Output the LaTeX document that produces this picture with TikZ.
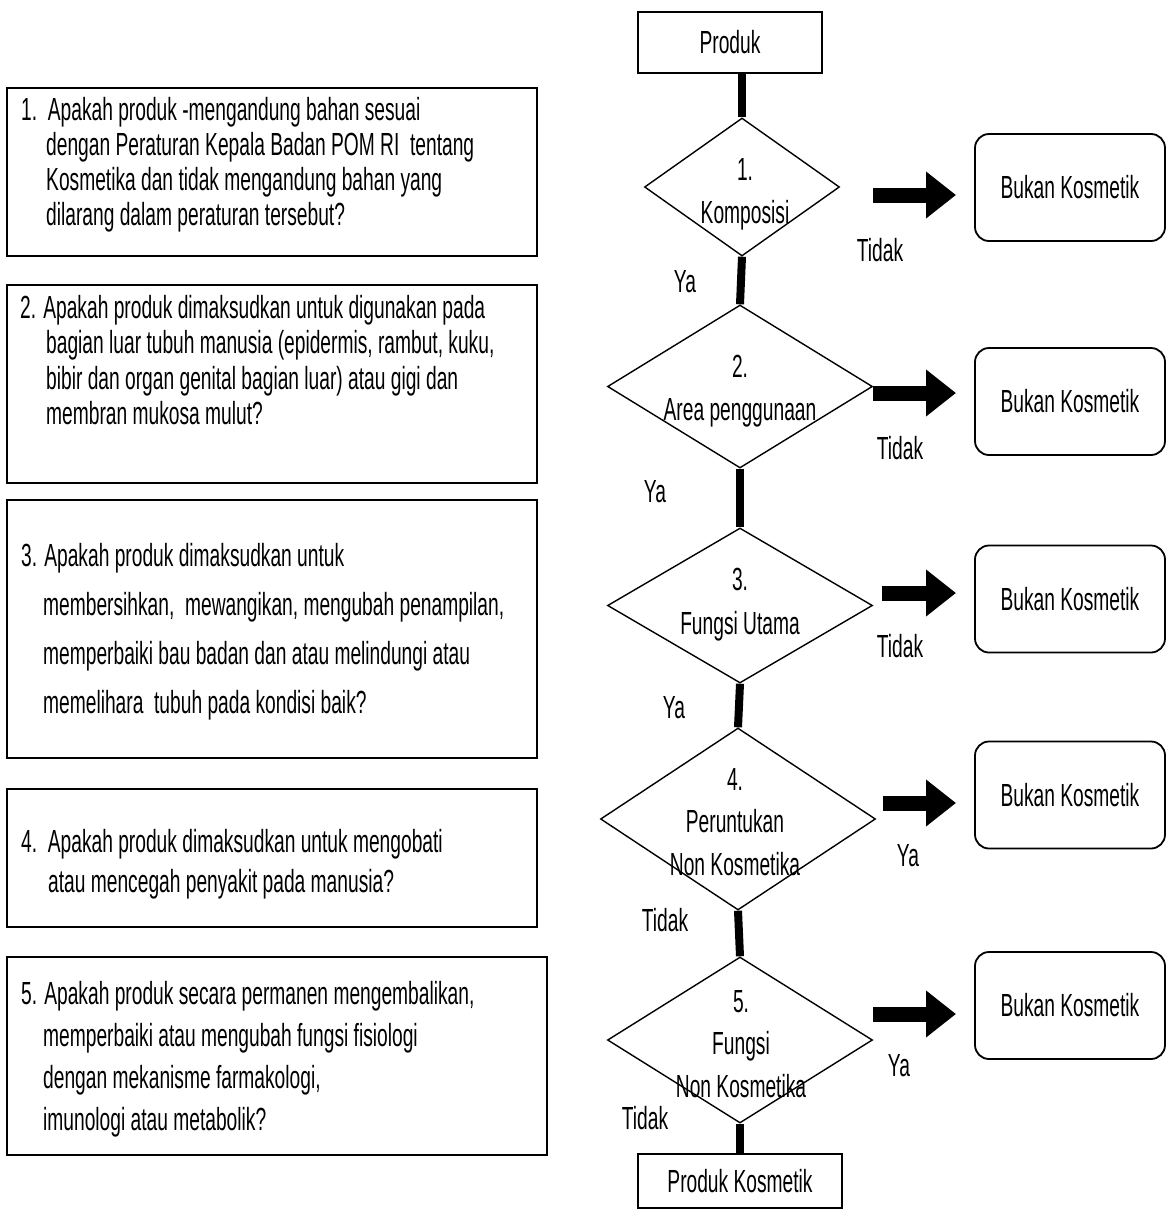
\documentclass[tikz,border=0pt]{standalone}
\usepackage{fontspec}
\setmainfont{Liberation Sans}[FakeStretch=0.6]
\usetikzlibrary{shapes.geometric,arrows.meta}

\begin{document}
\begin{tikzpicture}[x=1pt,y=-1pt,
	every node/.style={font=\fontsize{32}{36}\selectfont, inner sep=0pt},
	sq/.style={draw, line width=1.8pt, rectangle},
	rnd/.style={draw, line width=1.8pt, rounded corners=14pt, minimum width=190pt, minimum height=107pt},
	dia/.style={draw, line width=1.4pt, diamond},
	bar/.style={line width=8pt},
	blk/.style={line width=15pt, -{Triangle[length=30pt,width=45pt]}},
	qtxt/.style={align=left, anchor=base west},
	dtxt/.style={align=center, anchor=base, font=\fontsize{32}{42.5}\selectfont}]
	\useasboundingbox (0,0) rectangle (1166,1210);
	% questions, placed at the baseline of their last line
	\node[sq, minimum width=530pt, minimum height=168pt] (q1) at (272,172) {};
	\node[qtxt, font=\fontsize{32}{35}\selectfont] (q1t) at (21,225) {1.\ \ Apakah produk -mengandung bahan sesuai\\
		\hspace*{25pt}dengan Peraturan Kepala Badan POM RI\ \ tentang\\
		\hspace*{25pt}Kosmetika dan tidak mengandung bahan yang\\
		\hspace*{25pt}dilarang dalam peraturan tersebut?};
	%
	\node[sq, minimum width=530pt, minimum height=198pt] (q2) at (272,384) {};
	\node[qtxt, font=\fontsize{32}{35.5}\selectfont] (q2t) at (20,424.5) {2. Apakah produk dimaksudkan untuk digunakan pada\\
		\hspace*{26pt}bagian luar tubuh manusia (epidermis, rambut, kuku,\\
		\hspace*{26pt}bibir dan organ genital bagian luar) atau gigi dan\\
		\hspace*{26pt}membran mukosa mulut?};
	%
	\node[sq, minimum width=530pt, minimum height=258pt] (q3) at (272,629) {};
	\node[qtxt, font=\fontsize{32}{49}\selectfont] (q3t) at (21,713) {3. Apakah produk dimaksudkan untuk\\
		\hspace*{22pt}membersihkan,\ \ mewangikan, mengubah penampilan,\\
		\hspace*{22pt}memperbaiki bau badan dan atau melindungi atau\\
		\hspace*{22pt}memelihara\ \ tubuh pada kondisi baik?};
	%
	\node[sq, minimum width=530pt, minimum height=138pt] (q4) at (272,858) {};
	\node[qtxt, font=\fontsize{32}{40}\selectfont] (q4t) at (21,892) {4.\ \ Apakah produk dimaksudkan untuk mengobati\\
		\hspace*{27pt}atau mencegah penyakit pada manusia?};
	%
	\node[sq, minimum width=540pt, minimum height=198pt] (q5) at (277,1056) {};
	\node[qtxt, font=\fontsize{32}{41.7}\selectfont] (q5t) at (21,1130) {5. Apakah produk secara permanen mengembalikan,\\
		\hspace*{22pt}memperbaiki atau mengubah fungsi fisiologi\\
		\hspace*{22pt}dengan mekanisme farmakologi,\\
		\hspace*{22pt}imunologi atau metabolik?};
	% flow
	\node[sq, minimum width=184pt, minimum height=61pt] (prod) at (730,42.5) {Produk};
	\node[dia, minimum width=195pt, minimum height=138pt] (d1) at (742,187) {};
	\node[dia, minimum width=265pt, minimum height=163pt] (d2) at (740,386.5) {};
	\node[dia, minimum width=265pt, minimum height=155pt] (d3) at (740,605.5) {};
	\node[dia, minimum width=275pt, minimum height=182pt] (d4) at (738,819) {};
	\node[dia, minimum width=265pt, minimum height=166pt] (d5) at (740,1040) {};
	\node[sq, minimum width=204pt, minimum height=54pt] (pk) at (740,1181) {Produk Kosmetik};
	%
	\node[dtxt] (t1) at (745,223) {1.\\Komposisi};
	\node[dtxt] (t2) at (740,420) {2.\\Area penggunaan};
	\node[dtxt, font=\fontsize{32}{44}\selectfont] (t3) at (740,634) {3.\\Fungsi Utama};
	\node[dtxt] (t4) at (735,875) {4.\\Peruntukan\\Non Kosmetika};
	\node[dtxt] (t5) at (741,1097) {5.\\Fungsi\\Non Kosmetika};
	%
	\draw[bar] (d1.north |- prod.south) -- (d1.north);
	\draw[bar] (d1.south) -- (d2.north);
	\draw[bar] (d2.south) -- (d3.north);
	\draw[bar] (d3.south) -- (d4.north);
	\draw[bar] (d4.south) -- (d5.north);
	\draw[bar] (d5.south) -- (pk.north);
	%
	\foreach \i/\yb/\xs/\ya in {1/187.5/873/195, 2/401.5/873/393, 3/599/882/593, 4/795/883/803, 5/1005.5/873/1014}{
		\node[rnd] (b\i) at (1070,\yb) {Bukan Kosmetik};
		\coordinate (s\i) at (\xs,\ya);
		\coordinate (e\i) at (956,\ya);
		\draw[blk] (s\i) -- (e\i);
	}
	%
	\node (n1) at (880,250) {Tidak};
	\node (y1) at (685,282) {Ya};
	\node (n2) at (900,448) {Tidak};
	\node (y2) at (655,492) {Ya};
	\node (n3) at (900,646) {Tidak};
	\node (y3) at (674,708) {Ya};
	\node (y4) at (908,856) {Ya};
	\node (n4) at (665,920) {Tidak};
	\node (y5) at (899,1066) {Ya};
	\node (n5) at (645,1118) {Tidak};
\end{tikzpicture}
\end{document}
